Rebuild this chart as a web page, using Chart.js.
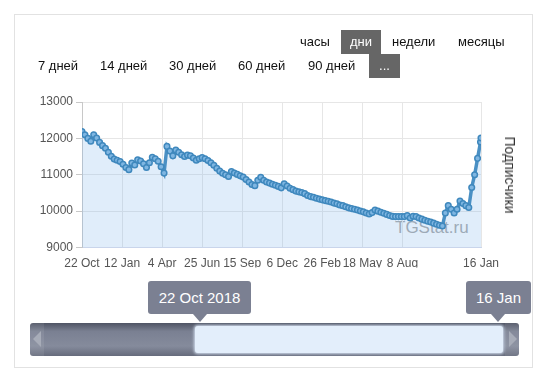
<!DOCTYPE html>
<html lang="ru">
<head>
    <meta charset="UTF-8">
    <title>Подписчики</title>
    <style>
        body {
            margin: 0;
            width: 540px;
            height: 375px;
            background: #fff;
            font-family: 'Liberation Sans', Arial, sans-serif;
            position: relative;
            overflow: hidden;
        }

        .panel {
            position: absolute;
            left: 14px; top: 14px;
            width: 519px; height: 354px;
            border: 1px solid #e2e2e2;
            box-sizing: border-box;
        }

        .btn {
            position: absolute;
            font-size: 13px;
            color: #111;
            line-height: 24px;
            height: 24px;
            z-index: 3;
        }

        .btn.active {
            background: #666;
            color: #fff;
            text-align: center;
        }

        #chart {
            position: absolute;
            left: 0; top: 0;
            z-index: 2;
        }

        .watermark {
            position: absolute;
            left: 395px; top: 218px;
            font-size: 17px;
            color: #a8a8a8;
            z-index: 1;
        }

        .axis-title {
            position: absolute;
            left: 510px; top: 175px;
            font-size: 14px;
            color: #333;
            transform: translate(-50%, -50%) rotate(90deg);
            white-space: nowrap;
            z-index: 3;
        }

        .nav-bar {
            position: absolute;
            left: 30px; top: 323px;
            width: 489px; height: 33px;
            border-radius: 3px;
            background: linear-gradient(#4f5464, #7a8092 25%, #858b9c 70%, #666b7c);
            z-index: 3;
        }

        .nav-sel {
            position: absolute;
            left: 165px; top: 3px;
            width: 308px; height: 27px;
            background: #e3eefb;
            border-radius: 3px;
            box-shadow: 0 0 3px 1px rgba(220, 232, 248, 0.9);
        }

        .nav-arrow {
            position: absolute;
            top: 0;
            width: 14px; height: 33px;
        }

        .nav-arrow.left { left: 0; background: rgba(255,255,255,0.08); }
        .nav-arrow.right { right: 0; background: rgba(255,255,255,0.08); }

        .nav-arrow::after {
            content: '';
            position: absolute;
            top: 8px;
            border-top: 8px solid transparent;
            border-bottom: 8px solid transparent;
        }

        .nav-arrow.left::after { left: 3px; border-right: 8px solid #a7acb8; }
        .nav-arrow.right::after { left: 4px; border-left: 8px solid #a7acb8; }

        .nav-label {
            position: absolute;
            top: 281px;
            height: 33px;
            line-height: 33px;
            background: #7b8092;
            color: #fff;
            font-size: 15px;
            text-align: center;
            border-radius: 3px;
            z-index: 4;
        }

        .nav-label::after {
            content: '';
            position: absolute;
            top: 33px;
            left: var(--tip);
            margin-left: -7px;
            border-left: 7px solid transparent;
            border-right: 7px solid transparent;
            border-top: 8px solid #7b8092;
        }
    </style>
    <script src="https://cdn.jsdelivr.net/npm/chart.js@4"></script>
</head>
<body>

    <div class="panel"></div>

    <div class="btn" style="left:300px; top:30px;">часы</div>
    <div class="btn active" style="left:341px; top:30px; width:40px;">дни</div>
    <div class="btn" style="left:392px; top:30px;">недели</div>
    <div class="btn" style="left:458px; top:30px;">месяцы</div>

    <div class="btn" style="left:38px; top:54px;">7 дней</div>
    <div class="btn" style="left:100px; top:54px;">14 дней</div>
    <div class="btn" style="left:169px; top:54px;">30 дней</div>
    <div class="btn" style="left:238px; top:54px;">60 дней</div>
    <div class="btn" style="left:308px; top:54px;">90 дней</div>
    <div class="btn active" style="left:369px; top:54px; width:31px;">...</div>

    <div class="watermark">TGStat.ru</div>
    <div class="axis-title">Подписчики</div>

    <canvas id="chart" width="540" height="375"></canvas>

    <div class="nav-label" style="left:148px; width:103px; --tip:52px;">22 Oct 2018</div>
    <div class="nav-label" style="left:466px; width:65px; --tip:32px;">16 Jan</div>
    <div class="nav-bar">
        <div class="nav-sel"></div>
        <div class="nav-arrow left"></div>
        <div class="nav-arrow right"></div>
    </div>

    <script>
        // day 0 = 22 Oct 2018, last day = 16 Jan 2021
        const lastDay = 817;
        const dayStep = 6;

        const tickDays = [0, 82, 164, 246, 328, 410, 492, 574, 656, 817];
        const tickLabels = ['22 Oct', '12 Jan', '4 Apr', '25 Jun', '15 Sep', '6 Dec', '26 Feb', '18 May', '8 Aug', '16 Jan'];

        // subscribers, read every 6 days from the picture (last one = 16 Jan)
        const subscribers = [
            12190, 12100, 12000, 11920, 12100, 12010, 11890, 11800, 11730, 11620,
            11510, 11430, 11400, 11365, 11290, 11200, 11140, 11320, 11270, 11410,
            11380, 11300, 11200, 11330, 11480, 11440, 11370, 11220, 11045, 11780,
            11650, 11520, 11680, 11620, 11550, 11500, 11540, 11520, 11460, 11400,
            11440, 11470, 11440, 11390, 11330, 11260, 11180, 11100, 11040, 11000,
            10950, 11090, 11050, 11010, 10970, 10935, 10870, 10800, 10730, 10700,
            10850, 10930, 10850, 10800, 10770, 10740, 10710, 10680, 10640, 10750,
            10690, 10630, 10590, 10550, 10530, 10510, 10480, 10430, 10400, 10380,
            10355, 10330, 10310, 10290, 10270, 10250, 10220, 10200, 10170, 10150,
            10120, 10090, 10070, 10050, 10030, 10005, 9980, 9950, 9920, 9960,
            10030, 10000, 9970, 9940, 9910, 9880, 9855, 9850, 9850, 9850,
            9850, 9875, 9810, 9860, 9850, 9810, 9780, 9750, 9720, 9700,
            9670, 9640, 9610, 9590, 9950, 10150, 10050, 9950, 10050, 10280,
            10210, 10150, 10100, 10650, 11000, 11450, 11900, 12010
        ];

        const points = subscribers.map((v, i) => ({
            x: Math.min(i * dayStep, lastDay),
            y: v
        }));

        const ctx = document.getElementById('chart').getContext('2d');
        new Chart(ctx, {
            type: 'line',
            data: {
                datasets: [{
                    label: 'Подписчики',
                    data: points,
                    borderColor: '#4a90c4',
                    borderWidth: 3.5,
                    backgroundColor: 'rgba(124, 181, 236, 0.24)',
                    fill: 'start',
                    tension: 0,
                    pointRadius: 2.8,
                    pointBorderWidth: 1.5,
                    pointBorderColor: '#3f88bd',
                    pointBackgroundColor: '#7fb6e2'
                }]
            },
            options: {
                animation: false,
                responsive: false,
                devicePixelRatio: 1,
                layout: {
                    padding: { left: 0, right: 59, top: 102, bottom: 107.5 }
                },
                plugins: {
                    legend: { display: false },
                    tooltip: { enabled: false }
                },
                scales: {
                    x: {
                        type: 'linear',
                        min: 0,
                        max: lastDay,
                        afterBuildTicks: scale => {
                            scale.ticks = tickDays.map(v => ({ value: v }));
                        },
                        afterFit: scale => { scale.height = 20; },
                        ticks: {
                            autoSkip: false,
                            maxRotation: 0,
                            padding: 9,
                            color: '#555',
                            font: { family: "'Liberation Sans', Arial", size: 12 },
                            callback: v => tickLabels[tickDays.indexOf(v)]
                        },
                        grid: { color: '#e6e6e6', drawTicks: false },
                        border: { color: '#ccd6eb' }
                    },
                    y: {
                        min: 9000,
                        max: 13000,
                        afterFit: scale => { scale.width = 82; },
                        ticks: {
                            stepSize: 1000,
                            padding: 3,
                            color: '#555',
                            font: { family: "'Liberation Sans', Arial", size: 12 },
                            callback: v => String(v)
                        },
                        grid: { color: '#e6e6e6', tickLength: 6, tickColor: '#c8c8c8' },
                        border: { color: '#c8c8c8' }
                    }
                }
            }
        });
    </script>

</body>
</html>
